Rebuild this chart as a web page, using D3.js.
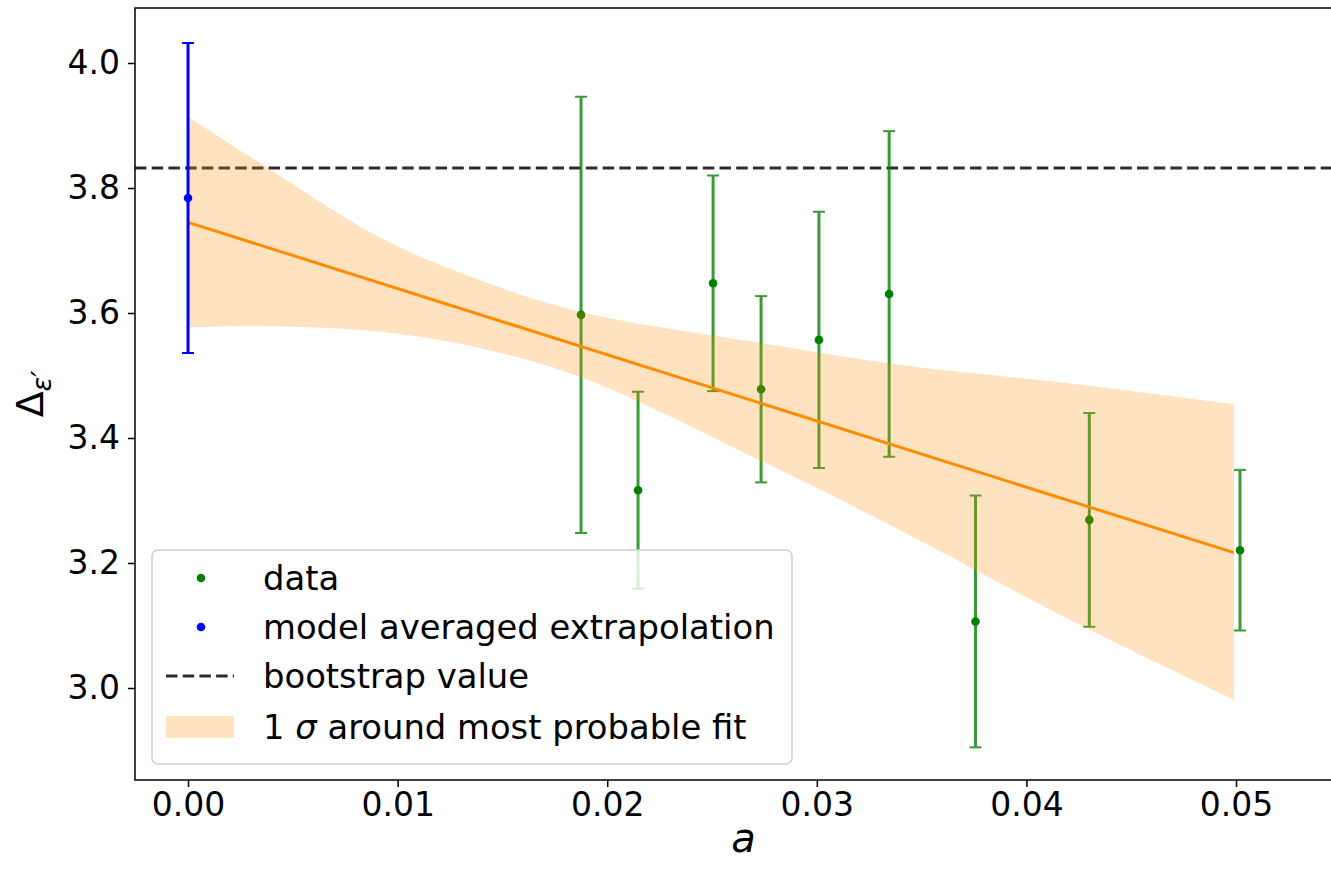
<!DOCTYPE html>
<html lang="en">
<head>
<meta charset="utf-8">
<script src="https://cdn.jsdelivr.net/npm/d3@7"></script>
<style type="text/css">
body { margin: 0; background: #fff; }
svg { font-family: "DejaVu Sans", sans-serif; }
.tick text { font-family: "DejaVu Sans", sans-serif; font-size: 33px; fill: #000; }
.tick line { stroke: #000; stroke-width: 1.5; }
.domain { display: none; }
</style>
</head>
<body>
<script type="text/javascript">

// lattice data (green points)
var aData   = [0.01875, 0.02147, 0.02505, 0.02734, 0.0301, 0.03345, 0.03757, 0.043, 0.05019];
var yData   = [3.597, 3.3165, 3.6475, 3.478, 3.557, 3.6305, 3.1065, 3.269, 3.2205];
var errData = [0.349, 0.1575, 0.1725, 0.149, 0.205, 0.2605, 0.2015, 0.171, 0.1285];

// model averaged extrapolation (blue)
var aExtrap = [0];
var yExtrap = [3.784];
var errExtrap = [0.248];

// bootstrap value
var bootstrap = 3.832;

// most probable fit + 1 sigma band
var fitA = [0, 0.0499];
var fitY = [3.745, 3.2165];
var bandA  = [0, 0.0038, 0.0092, 0.0139, 0.0187, 0.0273, 0.0340, 0.0419, 0.0499];
var bandLo = [3.577, 3.579, 3.570, 3.544, 3.498, 3.364, 3.252, 3.112, 2.981];
var bandHi = [3.914, 3.832, 3.720, 3.653, 3.602, 3.552, 3.517, 3.488, 3.454];

var xTicks = [0, 0.01, 0.02, 0.03, 0.04, 0.05];
var yTicks = [3.0, 3.2, 3.4, 3.6, 3.8, 4.0];

var width = 1331, height = 869;
var mLeft = 135, mTop = 8, mBottom = 780;

var x = d3.scaleLinear().domain([-0.00253, 0.0574]).range([mLeft, mLeft + 0.05993 * 20960]);
var y = d3.scaleLinear().domain([2.8528, 4.088]).range([mBottom, mTop]);

var svg = d3.select("body").append("svg")
	.attr("width", width)
	.attr("height", height);

var plot = svg.append("g");

// dashed bootstrap line
plot.append("line")
	.attr("x1", mLeft).attr("x2", width)
	.attr("y1", y(bootstrap)).attr("y2", y(bootstrap))
	.style("stroke", "#2e2e2e")
	.style("stroke-width", 3.2)
	.style("stroke-dasharray", "11.5,5.2");

// green error bars
var pts = aData.map(function(a, i) { return {a: a, v: yData[i], e: errData[i]}; });
function errorbars(g, data, color, op) {
	var eb = g.selectAll(null).data(data).enter().append("g")
		.style("stroke", color).style("opacity", op);
	eb.append("line")
		.attr("x1", function(d) { return x(d.a); })
		.attr("x2", function(d) { return x(d.a); })
		.attr("y1", function(d) { return y(d.v + d.e); })
		.attr("y2", function(d) { return y(d.v - d.e); })
		.style("stroke-width", 3);
	[1, -1].forEach(function(s) {
		eb.append("line")
			.attr("x1", function(d) { return x(d.a) - 6; })
			.attr("x2", function(d) { return x(d.a) + 6; })
			.attr("y1", function(d) { return y(d.v + s * d.e); })
			.attr("y2", function(d) { return y(d.v + s * d.e); })
			.style("stroke-width", 2);
	});
}
errorbars(plot, pts, "green", 0.78);
plot.selectAll(null).data(pts).enter().append("circle")
	.attr("cx", function(d) { return x(d.a); })
	.attr("cy", function(d) { return y(d.v); })
	.attr("r", 4.3)
	.style("fill", "green");

// 1 sigma band
var band = bandA.map(function(a, i) { return {a: a, lo: bandLo[i], hi: bandHi[i]}; });
plot.append("path")
	.datum(band)
	.attr("d", d3.area()
		.x(function(d) { return x(d.a); })
		.y0(function(d) { return y(d.lo); })
		.y1(function(d) { return y(d.hi); })
		.curve(d3.curveCatmullRom))
	.style("fill", "darkorange")
	.style("fill-opacity", 0.25);

// fit line
plot.append("path")
	.datum(fitA.map(function(a, i) { return [a, fitY[i]]; }))
	.attr("d", d3.line().x(function(d) { return x(d[0]); }).y(function(d) { return y(d[1]); }))
	.style("fill", "none")
	.style("stroke", "darkorange")
	.style("stroke-width", 3);

// blue extrapolation
var ext = aExtrap.map(function(a, i) { return {a: a, v: yExtrap[i], e: errExtrap[i]}; });
errorbars(plot, ext, "blue", 1);
plot.selectAll(null).data(ext).enter().append("circle")
	.attr("cx", function(d) { return x(d.a); })
	.attr("cy", function(d) { return y(d.v); })
	.attr("r", 4.3)
	.style("fill", "blue");

// axes
svg.append("g")
	.attr("class", "axis")
	.attr("transform", "translate(0," + mBottom + ")")
	.call(d3.axisBottom(x).tickValues(xTicks).tickFormat(d3.format(".2f")).tickSize(7).tickPadding(6));
svg.append("g")
	.attr("class", "axis")
	.attr("transform", "translate(" + mLeft + ",0)")
	.call(d3.axisLeft(y).tickValues(yTicks).tickFormat(d3.format(".1f")).tickSize(7).tickPadding(8));

// spines
svg.append("path")
	.attr("d", "M" + width + "," + mTop + "H" + mLeft + "V" + mBottom + "H" + width)
	.style("fill", "none")
	.style("stroke", "#000")
	.style("stroke-width", 1.5);

// axis labels
svg.append("text")
	.attr("x", x(0.0265)).attr("y", 852)
	.attr("text-anchor", "middle")
	.style("font-size", "40px")
	.style("font-style", "italic")
	.text("a");
var yl = svg.append("text")
	.attr("transform", "translate(43," + (mTop + mBottom) / 2 + ") rotate(-90)")
	.attr("text-anchor", "middle")
	.style("font-size", "38px");
yl.append("tspan").text("Δ");
yl.append("tspan").attr("dy", 8).style("font-size", "27px").style("font-style", "italic").text("ε′");

// legend
var lg = svg.append("g");
lg.append("rect")
	.attr("x", 152).attr("y", 550)
	.attr("width", 640).attr("height", 214)
	.attr("rx", 6)
	.style("fill", "#fff").style("fill-opacity", 0.8)
	.style("stroke", "#d0d0d0").style("stroke-width", 1.5);
var rows = [578, 627, 676, 727];
lg.append("circle").attr("cx", 201).attr("cy", rows[0]).attr("r", 4.3).style("fill", "green");
lg.append("circle").attr("cx", 201).attr("cy", rows[1]).attr("r", 4.3).style("fill", "blue");
lg.append("line").attr("x1", 166).attr("x2", 234).attr("y1", rows[2]).attr("y2", rows[2])
	.style("stroke", "#2e2e2e").style("stroke-width", 3.2).style("stroke-dasharray", "11.5,5.2");
lg.append("rect").attr("x", 166).attr("y", rows[3] - 11).attr("width", 68).attr("height", 22)
	.style("fill", "darkorange").style("fill-opacity", 0.25);
var labels = ["data", "model averaged extrapolation", "bootstrap value"];
labels.forEach(function(t, i) {
	lg.append("text").attr("x", 263).attr("y", rows[i]).attr("dy", "0.35em")
		.style("font-size", "33.8px").text(t);
});
var sl = lg.append("text").attr("x", 263).attr("y", rows[3]).attr("dy", "0.35em").style("font-size", "33.8px");
sl.append("tspan").text("1 ");
sl.append("tspan").style("font-style", "italic").text("σ");
sl.append("tspan").text(" around most probable fit");

</script>
</body>
</html>
